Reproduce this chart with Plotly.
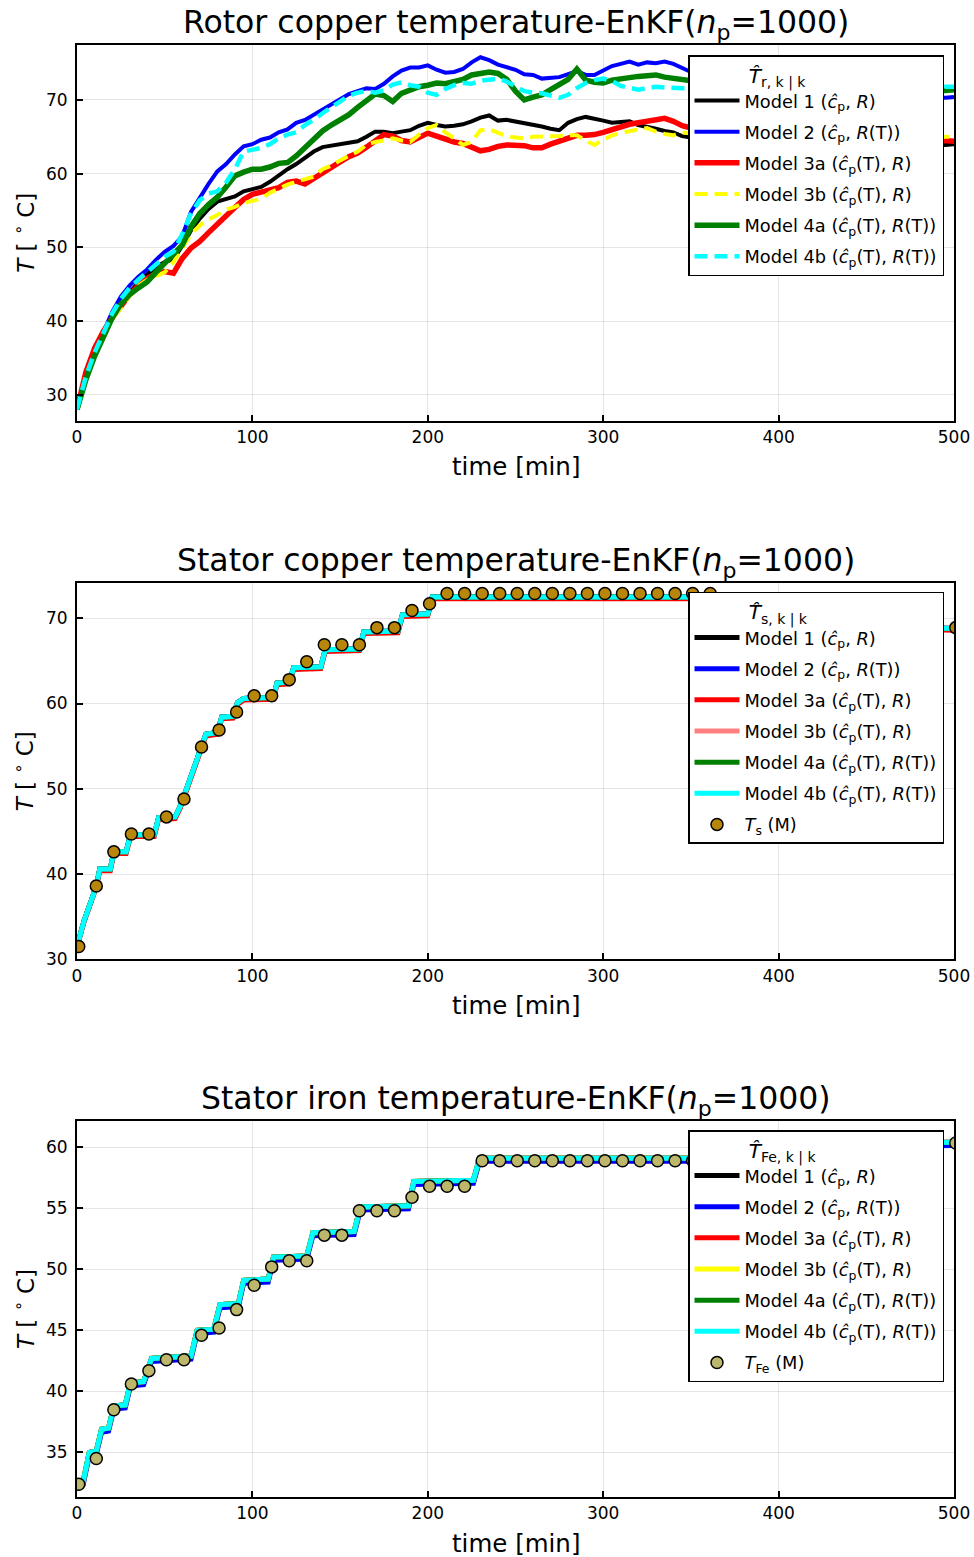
import plotly.graph_objects as go

# ---------------- rotor copper temperature (EnKF estimates) ----------------
ROTOR_TIME = list(range(0, 505, 5))

ROTOR_M1 = [28.0, 32.2, 35.5, 38.3, 40.8, 42.6, 44.0, 45.2, 46.3, 47.3,
            48.0, 48.4, 50.2, 52.3, 53.9, 55.2, 56.2, 56.5, 56.9, 57.6,
            57.9, 58.2, 58.9, 59.8, 60.6, 61.3, 62.2, 63.0, 63.6, 63.8,
            63.9, 64.1, 64.4, 65.0, 65.7, 65.7, 65.5, 65.7, 65.9, 66.5,
            66.9, 66.6, 66.4, 66.5, 66.7, 67.1, 67.6, 67.9, 67.2, 67.3,
            67.1, 66.9, 66.7, 66.4, 66.1, 65.9, 66.9, 67.4, 67.7, 67.5,
            67.2, 66.9, 67.0, 67.1, 66.6, 66.4, 66.1, 65.8, 65.6, 65.1,
            64.9, 65.1, 64.8, 64.6, 64.9, 64.5, 64.7, 64.4, 64.6, 64.3,
            64.5, 64.2, 64.4, 64.1, 64.3, 64.0, 64.2, 64.4, 64.1, 64.3,
            64.0, 64.2, 63.9, 64.1, 63.8, 64.0, 64.2, 63.9, 64.1, 63.9,
            64.0]

ROTOR_M2 = [28.0, 32.4, 35.8, 38.6, 41.2, 43.3, 44.8, 46.0, 47.0, 48.3,
            49.4, 50.2, 51.5, 54.8, 56.8, 58.6, 60.3, 61.3, 62.6, 63.7,
            64.0, 64.6, 64.9, 65.6, 66.0, 66.9, 67.3, 68.0, 68.8, 69.4,
            70.2, 70.8, 71.2, 71.6, 71.5, 72.2, 73.2, 74.0, 74.4, 74.4,
            74.7, 74.1, 73.7, 73.8, 74.2, 75.1, 75.8, 75.4, 74.8, 74.5,
            74.1, 73.5, 73.4, 72.9, 73.0, 73.1, 73.5, 73.9, 73.4, 73.4,
            74.0, 74.6, 74.9, 75.2, 74.8, 75.1, 75.0, 75.2, 74.9, 74.3,
            73.8, 73.4, 73.1, 72.8, 72.9, 72.4, 72.1, 72.3, 71.9, 71.6,
            71.8, 71.4, 71.2, 71.5, 71.1, 70.9, 71.2, 70.8, 70.6, 70.9,
            70.5, 70.3, 70.6, 70.4, 70.1, 70.3, 70.0, 70.2, 70.4, 70.3,
            70.4]

ROTOR_M3A = [28.0, 33.0, 36.3, 38.6, 40.4, 42.0, 43.6, 44.8, 45.8, 46.4,
             46.7, 46.5, 48.5, 49.9, 50.8, 52.0, 53.2, 54.4, 55.4, 56.5,
             57.2, 57.5, 57.8, 58.1, 58.8, 59.0, 58.6, 59.4, 60.2, 60.8,
             61.6, 62.3, 62.8, 63.6, 64.5, 65.3, 65.1, 64.5, 64.3, 64.8,
             65.5, 65.1, 64.7, 64.3, 64.1, 63.6, 63.1, 63.3, 63.7, 63.9,
             63.9, 63.8, 63.5, 63.5, 64.0, 64.4, 64.9, 65.2, 65.2, 65.3,
             65.6, 66.0, 66.4, 66.7, 66.9, 67.1, 67.4, 67.5, 67.1, 66.5,
             66.2, 66.0, 66.3, 65.9, 65.7, 66.0, 65.6, 65.4, 65.7, 65.3,
             65.5, 65.2, 65.0, 65.3, 64.9, 65.1, 64.8, 64.6, 64.9, 64.5,
             64.7, 64.4, 64.6, 64.3, 64.5, 64.2, 64.4, 64.6, 64.3, 64.5,
             64.4]

ROTOR_M3B = [28.0, 32.5, 35.6, 38.2, 40.2, 41.9, 43.4, 44.8, 45.6, 46.1,
             46.6, 48.0, 50.0, 51.8, 53.0, 53.8, 54.4, 55.1, 55.5, 56.0,
             56.3, 56.6, 57.4, 58.0, 58.5, 58.9, 59.2, 59.6, 60.6, 61.1,
             61.8, 62.4, 63.0, 63.9, 64.3, 64.5, 64.8, 64.5, 64.3, 65.3,
             66.2, 66.6, 65.6, 64.8, 63.9, 64.3, 65.9, 66.0, 65.5, 65.1,
             64.9, 64.8, 65.0, 65.0, 65.0, 65.1, 65.2, 65.2, 64.5, 63.9,
             64.6, 65.2, 65.5, 65.8, 66.0, 66.2, 65.7, 65.4, 65.2, 65.6,
             65.5, 65.3, 65.6, 65.2, 65.4, 65.0, 65.3, 65.1, 65.4, 65.0,
             65.2, 64.9, 65.1, 64.8, 65.0, 65.2, 64.9, 65.1, 64.8, 65.0,
             64.7, 64.9, 65.1, 64.8, 65.0, 64.7, 64.9, 65.1, 64.8, 65.0,
             65.0]

ROTOR_M4A = [28.0, 32.0, 35.2, 38.0, 40.4, 42.3, 43.6, 44.5, 45.3, 46.6,
             47.8, 49.0, 50.3, 52.8, 54.6, 55.8, 56.8, 58.2, 59.7, 60.2,
             60.6, 60.6, 60.9, 61.4, 61.5, 62.4, 63.5, 64.8, 65.8, 66.6,
             67.3, 68.0, 69.0, 70.0, 70.8, 70.6, 69.8, 70.9, 71.4, 71.8,
             72.0, 72.3, 72.2, 72.5, 72.8, 73.4, 73.6, 73.8, 73.6, 72.8,
             71.2, 70.0, 70.4, 70.7, 71.4, 72.0, 72.8, 74.2, 72.7, 72.4,
             72.3, 72.7, 72.9, 73.1, 73.2, 73.3, 73.4, 73.1, 72.9, 72.7,
             72.6, 72.8, 72.5, 72.3, 72.6, 72.2, 72.0, 72.3, 71.9, 72.1,
             71.8, 72.0, 71.7, 71.9, 71.6, 71.8, 71.5, 71.7, 71.4, 71.6,
             71.3, 71.5, 71.2, 71.4, 71.3, 71.1, 71.3, 71.2, 71.4, 71.3,
             71.4]

ROTOR_M4B = [28.0, 32.4, 35.7, 38.5, 41.0, 43.0, 44.5, 45.6, 46.6, 47.7,
             48.7, 49.4, 51.8, 54.6, 56.4, 57.3, 57.6, 58.8, 60.6, 63.0,
             63.3, 63.5, 64.0, 64.8, 65.3, 65.6, 66.6, 67.3, 68.2, 69.0,
             69.8, 70.6, 71.0, 71.2, 71.0, 71.3, 72.1, 72.4, 72.0, 71.8,
             71.0, 70.7, 71.5, 72.0, 72.3, 72.2, 72.6, 72.8, 72.9, 72.5,
             71.9, 71.2, 71.0, 70.9, 70.6, 70.3, 70.7, 71.6, 72.3, 72.7,
             72.9, 72.6, 71.9, 71.6, 71.4, 71.6, 71.8, 71.7, 71.6, 71.6,
             71.7, 71.5, 71.8, 71.3, 71.6, 71.2, 71.4, 71.0, 71.3, 71.5,
             71.1, 71.4, 71.2, 71.6, 71.3, 71.5, 71.7, 71.4, 71.6, 71.8,
             71.5, 71.7, 71.4, 71.6, 71.8, 71.5, 71.7, 71.9, 71.6, 71.8,
             71.8]

# ---------------- stator copper temperature ----------------
STATOR_KNOT_T = [0, 4, 8, 11, 13, 19, 21, 28, 30.5, 44, 46.5, 56, 59, 62, 65,
                 68, 71, 73.5, 80, 82.5, 89, 91.5, 95, 112, 114, 121, 123.5,
                 139, 141.5, 161, 163.5, 183, 185.5, 200, 202.5, 362, 365,
                 385, 388, 415, 418, 445, 448, 475, 478, 500]
STATOR_EST = [31.5, 34.5, 36.8, 38.6, 40.6, 40.6, 42.6, 42.6, 44.6, 44.6,
              46.6, 46.7, 48.0, 49.6, 51.5, 53.2, 55.0, 56.4, 56.6, 58.4,
              58.5, 60.1, 60.6, 60.7, 62.4, 62.5, 64.2, 64.3, 66.3, 66.4,
              68.4, 68.5, 70.4, 70.5, 72.5, 72.5, 72.2, 72.0, 71.3, 71.1,
              70.4, 70.2, 69.6, 69.4, 68.9, 68.8]
STATOR_EST_M3A = [31.5, 34.4, 36.7, 38.5, 40.4, 40.4, 42.4, 42.4, 44.4, 44.4,
                  46.4, 46.5, 47.8, 49.4, 51.3, 53.0, 54.8, 56.2, 56.4, 58.2,
                  58.3, 59.9, 60.4, 60.5, 62.2, 62.3, 64.0, 64.1, 66.1, 66.2,
                  68.2, 68.3, 70.2, 70.3, 72.3, 72.3, 72.0, 71.8, 71.1, 70.9,
                  70.2, 70.0, 69.4, 69.2, 68.7, 68.6]
STATOR_MEAS_T = [1, 11, 21, 31, 41, 51, 61, 71, 81, 91, 101, 111, 121, 131,
                 141, 151, 161, 171, 181, 191, 201, 211, 221, 231, 241, 251,
                 261, 271, 281, 291, 301, 311, 321, 331, 341, 351, 361, 501]
STATOR_MEAS = [31.5, 38.6, 42.6, 44.7, 44.7, 46.7, 48.8, 54.9, 56.9, 59.0,
               60.9, 60.9, 62.8, 64.9, 66.9, 66.9, 66.9, 68.9, 68.9, 70.9,
               71.7, 72.9, 72.9, 72.9, 72.9, 72.9, 72.9, 72.9, 72.9, 72.9,
               72.9, 72.9, 72.9, 72.9, 72.9, 72.9, 72.9, 68.9]

# ---------------- stator iron temperature ----------------
IRON_KNOT_T = [0, 3.5, 7, 11, 14, 18, 21, 27.5, 30.5, 38, 42.5, 65, 68.5, 78,
               81.5, 92, 95, 109, 112, 131, 134.5, 158, 161.5, 189, 192, 226,
               229.5, 380, 383.5, 440, 443.5, 500]
IRON_EST = [32.4, 32.6, 35.0, 35.1, 36.9, 37.0, 38.8, 38.9, 40.7, 40.8,
            42.7, 42.9, 45.0, 45.1, 47.1, 47.2, 49.1, 49.2, 51.0, 51.1,
            53.0, 53.1, 55.1, 55.2, 57.2, 57.3, 59.1, 59.1, 59.7, 59.8,
            60.3, 60.4]
IRON_EST_M2 = [32.15, 32.35, 34.75, 34.85, 36.65, 36.75, 38.55, 38.65, 40.45,
               40.55, 42.45, 42.65, 44.75, 44.85, 46.85, 46.95, 48.85, 48.95,
               50.75, 50.85, 52.75, 52.85, 54.85, 54.95, 56.95, 57.05, 58.85,
               58.85, 59.45, 59.55, 60.05, 60.15]
IRON_MEAS_T = [1, 11, 21, 31, 41, 51, 61, 71, 81, 91, 101, 111, 121, 131,
               141, 151, 161, 171, 181, 191, 201, 211, 221, 231, 241, 251,
               261, 271, 281, 291, 301, 311, 321, 331, 341, 351, 361, 501]
IRON_MEAS = [32.4, 34.5, 38.5, 40.6, 41.7, 42.6, 42.6, 44.6, 45.2, 46.7,
             48.7, 50.2, 50.7, 50.7, 52.8, 52.8, 54.8, 54.8, 54.8, 55.9,
             56.8, 56.8, 56.8, 58.9, 58.9, 58.9, 58.9, 58.9, 58.9, 58.9,
             58.9, 58.9, 58.9, 58.9, 58.9, 58.9, 58.9, 60.35]

MODEL_NAMES = [
    "Model 1 (<i>ĉ</i><sub>p</sub>, <i>R</i>)",
    "Model 2 (<i>ĉ</i><sub>p</sub>, <i>R</i>(T))",
    "Model 3a (<i>ĉ</i><sub>p</sub>(T), <i>R</i>)",
    "Model 3b (<i>ĉ</i><sub>p</sub>(T), <i>R</i>)",
    "Model 4a (<i>ĉ</i><sub>p</sub>(T), <i>R</i>(T))",
    "Model 4b (<i>ĉ</i><sub>p</sub>(T), <i>R</i>(T))",
]

FONT = "DejaVu Sans"
fig = go.Figure()

# rotor panel
rotor_series = [ROTOR_M1, ROTOR_M2, ROTOR_M3A, ROTOR_M3B, ROTOR_M4A, ROTOR_M4B]
rotor_style = [("black", 4, "solid"), ("#0000FF", 4, "solid"), ("#FF0000", 5.5, "solid"),
               ("#FFFF00", 4, "13px,7px"), ("#008000", 5.5, "solid"), ("#00FFFF", 4.5, "13px,7px")]
for i, (vals, (col, w, dash)) in enumerate(zip(rotor_series, rotor_style)):
    fig.add_trace(go.Scatter(x=ROTOR_TIME, y=vals, mode="lines", name=MODEL_NAMES[i],
                             line=dict(color=col, width=w, dash=dash),
                             xaxis="x", yaxis="y", legend="legend",
                             legendgroup=f"r{i}"))

# stator copper panel
stator_series = [STATOR_EST, STATOR_EST, STATOR_EST_M3A, STATOR_EST, STATOR_EST, STATOR_EST]
stator_cols = ["black", "#0000FF", "#FF0000", "#FF8080", "#008000", "#00FFFF"]
for i, (vals, col) in enumerate(zip(stator_series, stator_cols)):
    fig.add_trace(go.Scatter(x=STATOR_KNOT_T, y=vals, mode="lines", name=MODEL_NAMES[i],
                             line=dict(color=col, width=5),
                             xaxis="x2", yaxis="y2", legend="legend2",
                             legendgroup=f"s{i}"))
fig.add_trace(go.Scatter(x=STATOR_MEAS_T, y=STATOR_MEAS, mode="markers",
                         name="<i>T</i><sub>s</sub> (M)",
                         marker=dict(color="#B8860B", size=12, line=dict(color="black", width=1.5)),
                         xaxis="x2", yaxis="y2", legend="legend2", legendgroup="s_meas"))

# stator iron panel
iron_series = [IRON_EST, IRON_EST_M2, IRON_EST, IRON_EST, IRON_EST, IRON_EST]
iron_cols = ["black", "#0000FF", "#FF0000", "#FFFF00", "#008000", "#00FFFF"]
for i, (vals, col) in enumerate(zip(iron_series, iron_cols)):
    fig.add_trace(go.Scatter(x=IRON_KNOT_T, y=vals, mode="lines", name=MODEL_NAMES[i],
                             line=dict(color=col, width=5),
                             xaxis="x3", yaxis="y3", legend="legend3",
                             legendgroup=f"i{i}"))
fig.add_trace(go.Scatter(x=IRON_MEAS_T, y=IRON_MEAS, mode="markers",
                         name="<i>T</i><sub>Fe</sub> (M)",
                         marker=dict(color="#BDB76B", size=12, line=dict(color="black", width=1.5)),
                         xaxis="x3", yaxis="y3", legend="legend3", legendgroup="i_meas"))

# axes
def xax(anchor):
    return dict(range=[0, 500], tickvals=[0, 100, 200, 300, 400, 500], anchor=anchor,
                showline=True, linecolor="black", linewidth=2, mirror=True,
                ticks="inside", ticklen=6, tickwidth=1.5, tickcolor="black",
                showgrid=True, gridcolor="rgba(0,0,0,0.1)", gridwidth=1, zeroline=False,
                automargin=False,
                tickfont=dict(family=FONT, size=17, color="black"), domain=[0, 1])

def yax(anchor, rng, vals, dom):
    return dict(range=rng, tickvals=vals, anchor=anchor, domain=dom,
                showline=True, linecolor="black", linewidth=2, mirror=True,
                ticks="inside", ticklen=6, tickwidth=1.5, tickcolor="black",
                showgrid=True, gridcolor="rgba(0,0,0,0.1)", gridwidth=1, zeroline=False,
                automargin=False, ticklabelstandoff=4,
                tickfont=dict(family=FONT, size=17, color="black"))

DOM_TOP = [0.74139, 1.0]
DOM_MID = [0.37032, 0.62927]
DOM_BOT = [0.0, 0.25895]

def legend_box(y, title):
    return dict(x=0.9886, y=y, xanchor="right", yanchor="top",
                bgcolor="white", bordercolor="black", borderwidth=1.5,
                font=dict(family=FONT, size=17.8, color="black"),
                tracegroupgap=5, itemwidth=45,
                title=dict(text=title, font=dict(family=FONT, size=20, color="black")))

PAD = "\u00a0" * 9
fig.update_layout(
    width=974, height=1557,
    margin=dict(l=77, r=20, t=45, b=60, autoexpand=False),
    paper_bgcolor="white", plot_bgcolor="white",
    showlegend=True,
    xaxis=xax("y"), yaxis=yax("x", [26.5, 77.46], [30, 40, 50, 60, 70], DOM_TOP),
    xaxis2=xax("y2"), yaxis2=yax("x2", [30, 74.1], [30, 40, 50, 60, 70], DOM_MID),
    xaxis3=xax("y3"), yaxis3=yax("x3", [31.35, 62.15], [35, 40, 45, 50, 55, 60], DOM_BOT),
    legend=legend_box(0.99311, PAD + "<i>T̂</i><sub>r, k | k</sub>"),
    legend2=legend_box(0.62328, PAD + "<i>T̂</i><sub>s, k | k</sub>"),
    legend3=legend_box(0.25275, PAD + "<i>T̂</i><sub>Fe, k | k</sub>"),
)

titles = ["Rotor copper temperature-EnKF(<i>n</i><sub>p</sub>=1000)",
          "Stator copper temperature-EnKF(<i>n</i><sub>p</sub>=1000)",
          "Stator iron temperature-EnKF(<i>n</i><sub>p</sub>=1000)"]
annotations = []
for k, (xa, ya) in enumerate([("x", "y"), ("x2", "y2"), ("x3", "y3")]):
    annotations.append(dict(text=titles[k], xref=f"{xa} domain", yref=f"{ya} domain",
                            x=0.5, y=1, xanchor="center", yanchor="bottom", yshift=-2,
                            showarrow=False, font=dict(family=FONT, size=31.5, color="black")))
    annotations.append(dict(text="time [min]", xref=f"{xa} domain", yref=f"{ya} domain",
                            x=0.5, y=0, xanchor="center", yanchor="middle", yshift=-46,
                            showarrow=False, font=dict(family=FONT, size=24.5, color="black")))
    annotations.append(dict(text="<i>T</i> [ <sup>∘</sup> C]", xref=f"{xa} domain", yref=f"{ya} domain",
                            x=0, y=0.5, xanchor="center", yanchor="middle", xshift=-53,
                            textangle=-90, showarrow=False,
                            font=dict(family=FONT, size=23, color="black")))
fig.update_layout(annotations=annotations)

fig.write_html("out.html")
